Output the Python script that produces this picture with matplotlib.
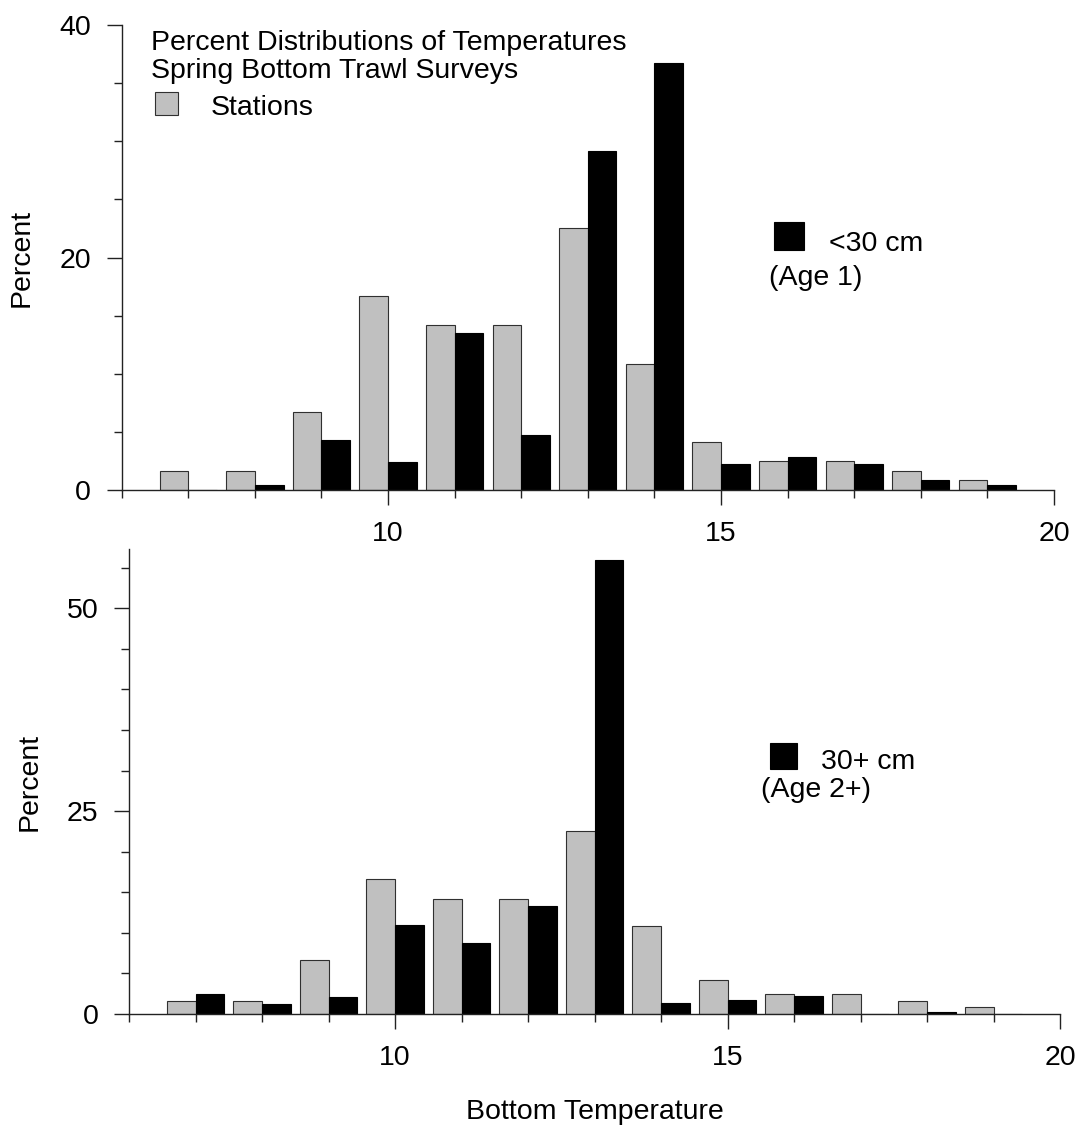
import matplotlib
matplotlib.use("Agg")
import matplotlib.pyplot as plt
from matplotlib.patches import Rectangle
from matplotlib.ticker import FixedLocator, MultipleLocator

plt.rcParams['font.family'] = ['Liberation Sans', 'DejaVu Sans']

# ---------------- data ----------------
temps = [7, 8, 9, 10, 11, 12, 13, 14, 15, 16, 17, 18, 19]
stations = [1.63, 1.63, 6.68, 16.68, 14.16, 14.16, 22.5, 10.8, 4.16, 2.46, 2.46, 1.66, 0.85]
age1_lt30 = [0.0, 0.43, 4.3, 2.43, 13.53, 4.73, 29.2, 36.77, 2.26, 2.87, 2.26, 0.83, 0.4]
age2_30plus = [2.49, 1.27, 2.06, 11.0, 8.79, 13.27, 55.9, 1.40, 1.75, 2.24, 0.0, 0.26, 0.0]

title_lines = ["Percent Distributions of Temperatures", "Spring Bottom Trawl Surveys"]
stations_label = "Stations"
top_label = ["<30 cm", "(Age 1)"]
bot_label = ["30+ cm", "(Age 2+)"]
x_major = [10, 15, 20]
top_y_major = [0, 20, 40]
bot_y_major = [0, 25, 50]

# ---------------- layout ----------------
W, H = 1077, 1131
fig = plt.figure(figsize=(W / 100, H / 100), dpi=100)


def fx(px):
    return px / W


def fy(py):
    return 1 - py / H


FS = 20.5
GRAY = '#c0c0c0'
BW = 0.43

ax1 = fig.add_axes([fx(121.7), fy(490), fx(1054) - fx(121.7), (490 - 25) / H])
ax2 = fig.add_axes([fx(129), fy(1014), fx(1060) - fx(129), (1014 - 549) / H])


def style(ax, ymax, ymajor):
    ax.bar(temps, stations, width=-BW, align='edge', color=GRAY,
           edgecolor='#303030', linewidth=0.8, zorder=2)
    ax.set_xlim(6, 20)
    ax.set_ylim(0, ymax)
    for s in ['top', 'right']:
        ax.spines[s].set_visible(False)
    for s in ['left', 'bottom']:
        ax.spines[s].set_linewidth(1.0)
        ax.spines[s].set_color('#222222')
    ax.xaxis.set_major_locator(FixedLocator(x_major))
    ax.xaxis.set_minor_locator(MultipleLocator(1))
    ax.yaxis.set_major_locator(FixedLocator(ymajor))
    ax.yaxis.set_minor_locator(MultipleLocator(5))
    ax.tick_params(which='major', direction='out', length=11, width=1.0,
                   labelsize=FS, pad=11, color='#222222')
    ax.tick_params(which='minor', direction='out', length=6, width=1.0, color='#222222')
    ax.set_ylabel('Percent', fontsize=FS)
    ax.yaxis.label.set_verticalalignment('center')


style(ax1, 40, top_y_major)
style(ax2, 57.3, bot_y_major)

ax1.bar(temps, age1_lt30, width=BW, align='edge', color='black',
        edgecolor='black', linewidth=0.8, zorder=2)
ax2.bar(temps, age2_30plus, width=BW, align='edge', color='black',
        edgecolor='black', linewidth=0.8, zorder=2)

ax1.yaxis.set_label_coords(-0.1069, 0.5)
ax2.yaxis.set_label_coords(-0.1063, 0.5)

ax2.set_xlabel('Bottom Temperature', fontsize=FS)
ax2.xaxis.label.set_verticalalignment('center')
ax2.xaxis.set_label_coords(0.5, (1014 - 1112) / 465)

# ---------------- annotations ----------------
fig.text(fx(151), fy(50), title_lines[0], fontsize=FS, ha='left', va='baseline')
fig.text(fx(151), fy(78), title_lines[1], fontsize=FS, ha='left', va='baseline')
fig.add_artist(Rectangle((fx(155), fy(115)), fx(178) - fx(155), (115 - 92) / H,
                         transform=fig.transFigure, facecolor=GRAY,
                         edgecolor='#303030', linewidth=0.8))
fig.text(fx(211), fy(115), stations_label, fontsize=FS, ha='left', va='baseline')

fig.add_artist(Rectangle((fx(774), fy(250)), fx(804) - fx(774), (250 - 222) / H,
                         transform=fig.transFigure, facecolor='black',
                         edgecolor='black', linewidth=0.8))
fig.text(fx(829), fy(251), top_label[0], fontsize=FS, ha='left', va='baseline')
fig.text(fx(769), fy(285), top_label[1], fontsize=FS, ha='left', va='baseline')

fig.add_artist(Rectangle((fx(770), fy(769)), fx(797) - fx(770), (769 - 743) / H,
                         transform=fig.transFigure, facecolor='black',
                         edgecolor='black', linewidth=0.8))
fig.text(fx(821), fy(769), bot_label[0], fontsize=FS, ha='left', va='baseline')
fig.text(fx(761), fy(797), bot_label[1], fontsize=FS, ha='left', va='baseline')

fig.savefig('out.png', dpi=100)
